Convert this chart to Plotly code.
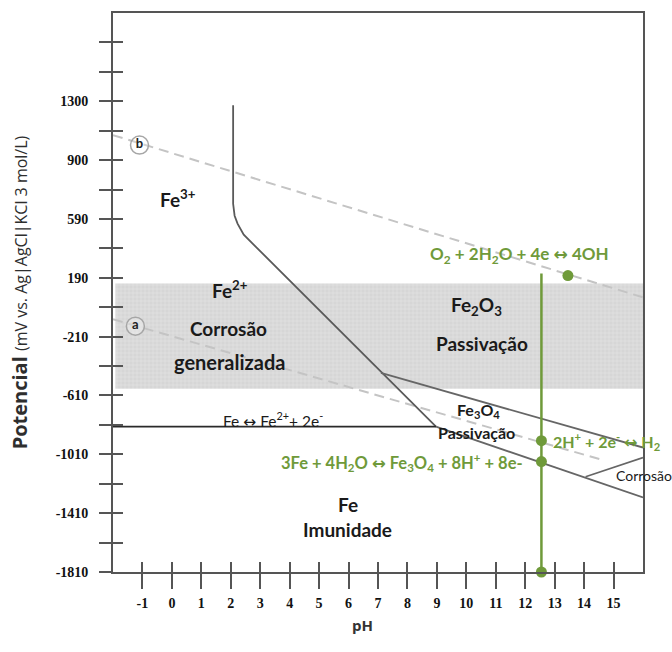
import plotly.graph_objects as go

# ---------------- data (pH, potential on the plotted scale) ----------------
x_tick_vals = list(range(-1, 16))
x_tick_text = [str(v) for v in x_tick_vals]

y_tick_vals = [-1810, -1410, -1010, -610, -210, 190, 590, 990, 1390]
y_tick_text = ["-1810", "-1410", "-1010", "-610", "-210", "190", "590", "900", "1300"]
y_minor_vals = [-1810 + 200 * k for k in range(19)]

# Fe3+/Fe2+ boundary bending into Fe2+/oxide boundary
ph_fe3_fe2 = [2.08, 2.08, 2.13, 2.23, 2.44, 8.97]
e_fe3_fe2 = [1363, 693, 612, 558, 483, -822]

# Fe <-> Fe2+ + 2e- (horizontal)
ph_fe_fe2 = [-2.0, 8.97]
e_fe_fe2 = [-822, -822]

# Fe2O3 / Fe3O4 boundary
ph_fe2o3_fe3o4 = [7.10, 16.0]
e_fe2o3_fe3o4 = [-457, -964]

# Fe3O4 / Fe boundary
ph_fe3o4_fe = [8.97, 16.0]
e_fe3o4_fe = [-822, -1303]

# Fe3O4 / corrosion (HFeO2-) boundary
ph_corr = [14.05, 16.0]
e_corr = [-1163, -1032]

# water stability lines (dashed)
ph_line_b = [-2.0, 16.0]
e_line_b = [1160, 57]
ph_line_a = [-2.0, 14.58]
e_line_a = [-92, -1046]

# shaded corrosion/passivation band
ph_band = [-1.92, 16.0]
e_band = [152, -565]

# green markers at pH 12.55
ph_green_line = [12.55, 12.55]
e_green_line = [220, -1810]
ph_green_dots = [13.45, 12.55, 12.55, 12.55]
e_green_dots = [205, -917, -1059, -1810]

# circle markers a / b
ph_circles = [-1.10, -1.24]
e_circles = [1092, -139]
circle_labels = ["b", "a"]

GREEN = "#6f9a3a"
LINE = "#666666"
FONT = "Lato"
ARROW = "<span style='font-family:DejaVu Sans'>↔</span>"

fig = go.Figure()

# shaded band
fig.add_trace(go.Scatter(
    x=[ph_band[0], ph_band[1], ph_band[1], ph_band[0], ph_band[0]],
    y=[e_band[0], e_band[0], e_band[1], e_band[1], e_band[0]],
    mode="lines", line=dict(width=0), fill="toself", fillcolor="#d9d9d9",
    fillpattern=dict(shape="+", bgcolor="#dddddd", fgcolor="#bdbdbd", size=4, solidity=0.25),
    hoverinfo="skip", showlegend=False))

def add_line(x, y, color=LINE, width=1.8, dash="solid"):
    fig.add_trace(go.Scatter(x=x, y=y, mode="lines",
                             line=dict(color=color, width=width, dash=dash),
                             hoverinfo="skip", showlegend=False))

add_line(ph_line_b, e_line_b, color="#c4c4c4", width=2, dash="10px,6px")
add_line(ph_line_a, e_line_a, color="#c4c4c4", width=2, dash="10px,6px")
add_line(ph_fe3_fe2, e_fe3_fe2, color="#5a5a5a", width=1.8)
add_line(ph_fe_fe2, e_fe_fe2, color="#2a2a2a", width=1.6)
add_line(ph_fe2o3_fe3o4, e_fe2o3_fe3o4, color=LINE, width=1.8)
add_line(ph_fe3o4_fe, e_fe3o4_fe, color=LINE, width=1.8)
add_line(ph_corr, e_corr, color=LINE, width=1.6)

# circles
fig.add_trace(go.Scatter(x=ph_circles, y=e_circles, mode="markers+text",
                         marker=dict(symbol="circle", size=18, color="rgba(255,255,255,0.25)",
                                     line=dict(color="#a6a6a6", width=1.5)),
                         text=circle_labels, textposition="middle center",
                         textfont=dict(family=FONT, size=13, color="#222", weight="bold"),
                         hoverinfo="skip", showlegend=False))

# green vertical line and dots
add_line(ph_green_line, e_green_line, color=GREEN, width=2.5)
fig.add_trace(go.Scatter(x=ph_green_dots, y=e_green_dots, mode="markers",
                         marker=dict(size=11, color=GREEN), cliponaxis=False,
                         hoverinfo="skip", showlegend=False))

# invisible trace for overlay (crossing tick) axes
fig.add_trace(go.Scatter(x=[0], y=[0], xaxis="x2", yaxis="y2", mode="markers",
                         marker=dict(opacity=0), hoverinfo="skip", showlegend=False))

def label(x, y, text, size=19, color="#1a1a1a", weight="bold", xanchor="center"):
    fig.add_annotation(x=x, y=y, text=text, showarrow=False, xanchor=xanchor,
                       yanchor="middle",
                       font=dict(family=FONT, size=size, color=color, weight=weight))

label(0.22, 727, "Fe<sup>3+</sup>")
label(1.96, 111, "Fe<sup>2+</sup>")
label(1.93, -153, "Corrosão")
label(1.96, -383, "generalizada", size=20)
label(10.36, -4, "Fe<sub>2</sub>O<sub>3</sub>")
label(10.53, -254, "Passivação")
label(10.43, -714, "Fe<sub>3</sub>O<sub>4</sub>", size=16)
label(10.33, -863, "Passivação", size=16)
label(3.45, -775, "Fe " + ARROW + " Fe<sup>2+</sup>+ 2e<sup>-</sup>", size=15.5, weight="normal")
label(5.97, -1350, "Fe")
label(5.97, -1519, "Imunidade")
label(15.02, -1154, "Corrosão", size=14, weight="normal", xanchor="left")

label(11.79, 348, "O<sub>2</sub> + 2H<sub>2</sub>O + 4e " + ARROW + " 4OH", size=17, color=GREEN, weight="bold")
label(12.88, -924, "2H<sup>+</sup> + 2e<sup>-</sup> " + ARROW + " H<sub>2</sub>", size=16, color=GREEN,
      weight="bold", xanchor="left")
label(12.0, -1066, "3Fe + 4H<sub>2</sub>O " + ARROW + " Fe<sub>3</sub>O<sub>4</sub> + 8H<sup>+</sup> + 8e-",
      size=16.5, color=GREEN, weight="bold", xanchor="right")

# axis titles
fig.add_annotation(x=-0.205, y=0.5, xref="paper", yref="paper", textangle=-90,
                   text="<b>Potencial</b> <span style='font-size:16px'>(mV vs. Ag|AgCl|KCl 3 mol/L)</span>",
                   showarrow=False, font=dict(family="Open Sans", size=20, color="#2e2e2e"))
fig.add_annotation(x=0.47, y=-0.116, xref="paper", yref="paper", text="<b>pH</b>",
                   showarrow=False, font=dict(family="Open Sans", size=15, color="#333333"))

AX = "#555555"
XR = [-2, 16]
YR = [-1810, 1990]

fig.update_layout(
    width=672, height=652,
    margin=dict(l=113, r=29, t=11, b=80),
    paper_bgcolor="white", plot_bgcolor="white",
    xaxis=dict(range=XR, tickvals=x_tick_vals, ticktext=x_tick_text, ticks="outside",
               ticklen=15, tickwidth=1.5, tickcolor=AX, showline=True, linecolor=AX,
               linewidth=1.8, mirror=True, showgrid=False, zeroline=False,
               tickfont=dict(family="Liberation Serif", size=14, color="#111111", weight="bold"),
               ticklabelstandoff=2),
    yaxis=dict(range=YR, tickvals=y_tick_vals, ticktext=y_tick_text, ticks="outside",
               ticklen=12, tickwidth=1.5, tickcolor=AX, showline=True, linecolor=AX,
               linewidth=1.8, mirror=True, showgrid=False, zeroline=False,
               minor=dict(tickvals=y_minor_vals, ticks="outside", ticklen=12,
                          tickwidth=1.5, tickcolor=AX, showgrid=False),
               tickfont=dict(family="Liberation Serif", size=14, color="#111111", weight="bold"),
               ticklabelstandoff=8),
    xaxis2=dict(range=XR, overlaying="x", anchor="y2", side="bottom", tickvals=x_tick_vals,
                ticks="inside", ticklen=10, tickwidth=1.5, tickcolor=AX, showticklabels=False,
                showline=False, showgrid=False, zeroline=False),
    yaxis2=dict(range=YR, overlaying="y", anchor="x2", side="left", tickvals=y_minor_vals[1:],
                ticks="inside", ticklen=10, tickwidth=1.5, tickcolor=AX, showticklabels=False,
                showline=False, showgrid=False, zeroline=False),
    showlegend=False,
)

fig.write_html("out.html", config={"displayModeBar": False},
               post_script="document.body.style.margin='0';document.body.style.overflow='hidden';")
